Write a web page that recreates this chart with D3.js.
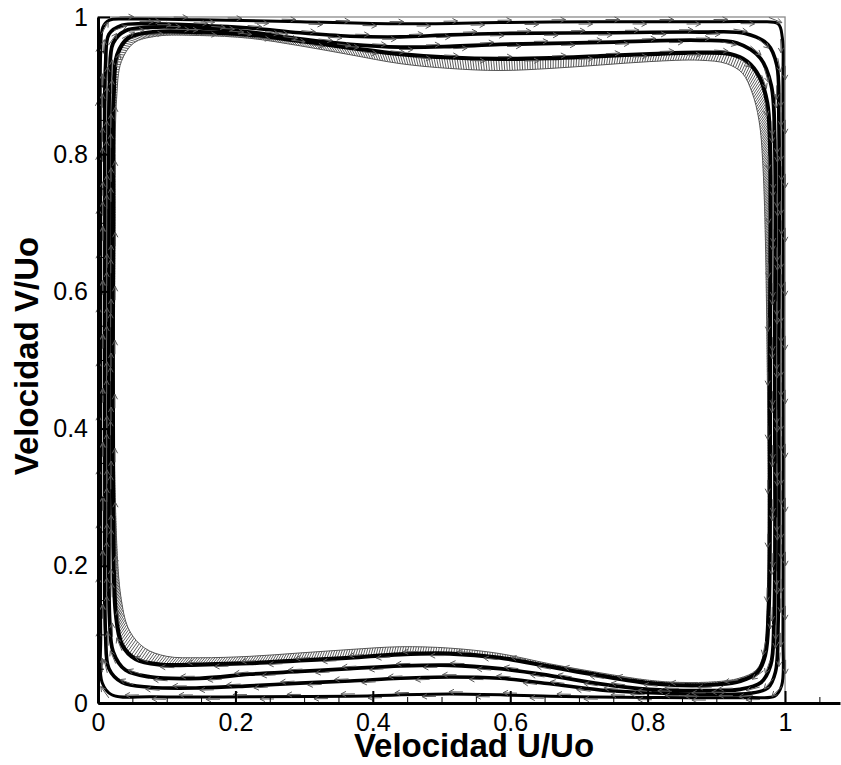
<!DOCTYPE html>
<html>
<head>
<meta charset="utf-8">
<script src="https://cdn.jsdelivr.net/npm/d3@7"></script>
<style>
  body { margin: 0; background: #fff; }
  svg { display: block; }
  text { font-family: "Liberation Sans", Arial, sans-serif; fill: #000; }
</style>
</head>
<body>
<svg id="chart" width="841" height="765"></svg>
<script>
// Axis ticks and labels
const xTicks = [0, 0.2, 0.4, 0.6, 0.8, 1];
const yTicks = [0, 0.2, 0.4, 0.6, 0.8, 1];
const tickLabels = ["0", "0.2", "0.4", "0.6", "0.8", "1"];
const xTitle = "Velocidad U/Uo";
const yTitle = "Velocidad V/Uo";

// Closed streamtraces, clockwise (up the left wall, along the lid, down the right wall, back along the floor)
const streamA = [
  [0.004, 0.30], [0.004, 0.70], [0.004, 0.95], [0.007, 0.985], [0.016, 0.995], [0.040, 0.997],
  [0.148, 0.996], [0.294, 0.993], [0.440, 0.990], [0.585, 0.992], [0.731, 0.993], [0.876, 0.993],
  [0.960, 0.993], [0.990, 0.990], [0.996, 0.970], [0.997, 0.900], [0.997, 0.500], [0.997, 0.100],
  [0.995, 0.025], [0.985, 0.010], [0.950, 0.008], [0.803, 0.008], [0.658, 0.010], [0.512, 0.013],
  [0.367, 0.010], [0.221, 0.009], [0.080, 0.009], [0.020, 0.012], [0.006, 0.030], [0.004, 0.100]
];
const streamB = [
  [0.010, 0.30], [0.010, 0.70], [0.011, 0.93], [0.016, 0.975], [0.035, 0.988], [0.076, 0.990],
  [0.148, 0.988], [0.221, 0.984], [0.294, 0.977], [0.367, 0.972], [0.440, 0.971], [0.512, 0.974],
  [0.585, 0.976], [0.731, 0.977], [0.876, 0.978], [0.942, 0.976], [0.975, 0.960], [0.988, 0.930],
  [0.991, 0.850], [0.991, 0.500], [0.990, 0.120], [0.986, 0.045], [0.975, 0.022], [0.949, 0.014],
  [0.876, 0.013], [0.803, 0.015], [0.731, 0.019], [0.658, 0.028], [0.585, 0.036], [0.512, 0.038],
  [0.440, 0.036], [0.367, 0.032], [0.294, 0.029], [0.221, 0.025], [0.148, 0.022], [0.076, 0.023],
  [0.035, 0.030], [0.016, 0.050], [0.011, 0.100]
];
const streamC = [
  [0.016, 0.30], [0.016, 0.70], [0.017, 0.91], [0.022, 0.962], [0.040, 0.980], [0.076, 0.985],
  [0.148, 0.984], [0.221, 0.978], [0.294, 0.968], [0.367, 0.960], [0.440, 0.956], [0.512, 0.957],
  [0.585, 0.960], [0.731, 0.963], [0.876, 0.966], [0.930, 0.962], [0.964, 0.940], [0.980, 0.900],
  [0.985, 0.820], [0.985, 0.500], [0.984, 0.120], [0.979, 0.055], [0.965, 0.030], [0.934, 0.020],
  [0.876, 0.018], [0.803, 0.020], [0.731, 0.028], [0.658, 0.040], [0.585, 0.050], [0.512, 0.055],
  [0.440, 0.054], [0.367, 0.050], [0.294, 0.046], [0.221, 0.042], [0.148, 0.036], [0.076, 0.038],
  [0.040, 0.048], [0.022, 0.075], [0.017, 0.120]
];
const streamD = [
  [0.022, 0.30], [0.022, 0.70], [0.023, 0.89], [0.028, 0.945], [0.045, 0.970], [0.080, 0.978],
  [0.148, 0.978], [0.221, 0.974], [0.294, 0.965], [0.367, 0.955], [0.440, 0.946], [0.512, 0.941],
  [0.585, 0.939], [0.658, 0.940], [0.731, 0.943], [0.803, 0.946], [0.876, 0.948], [0.920, 0.946],
  [0.945, 0.935], [0.963, 0.912], [0.974, 0.875], [0.978, 0.820], [0.978, 0.500], [0.976, 0.130],
  [0.971, 0.070], [0.960, 0.045], [0.935, 0.032], [0.900, 0.027], [0.847, 0.026], [0.803, 0.029],
  [0.731, 0.040], [0.658, 0.053], [0.585, 0.066], [0.512, 0.072], [0.440, 0.071], [0.367, 0.066],
  [0.294, 0.062], [0.221, 0.058], [0.148, 0.056], [0.090, 0.056], [0.055, 0.064], [0.035, 0.085],
  [0.026, 0.130]
];
// Inner edge of the dense vector band that hugs the innermost streamtrace
const bandInner = [
  [0.025, 0.30], [0.025, 0.70], [0.027, 0.88], [0.034, 0.935], [0.052, 0.962], [0.085, 0.972],
  [0.148, 0.973], [0.221, 0.969], [0.294, 0.958], [0.367, 0.945], [0.440, 0.932], [0.512, 0.925],
  [0.585, 0.922], [0.658, 0.925], [0.731, 0.930], [0.803, 0.935], [0.876, 0.937], [0.915, 0.932],
  [0.938, 0.918], [0.952, 0.890], [0.962, 0.850], [0.968, 0.780], [0.974, 0.500], [0.974, 0.130],
  [0.969, 0.072], [0.958, 0.048], [0.933, 0.036], [0.900, 0.031], [0.847, 0.030], [0.803, 0.033],
  [0.731, 0.044], [0.658, 0.057], [0.585, 0.072], [0.512, 0.080], [0.440, 0.082], [0.367, 0.078],
  [0.294, 0.073], [0.221, 0.068], [0.148, 0.066], [0.100, 0.068], [0.068, 0.080], [0.046, 0.105],
  [0.034, 0.150]
];

const svg = d3.select("#chart");
const x = d3.scaleLinear().domain([0, 1.08]).range([98, 840]);
const y = d3.scaleLinear().domain([0, 1]).range([703, 17]);
const line = d3.line()
  .x(d => x(d[0]))
  .y(d => y(d[1]))
  .curve(d3.curveCatmullRomClosed.alpha(0.5));

// Cavity outline (lid and right wall)
svg.append("rect")
  .attr("x", x(0)).attr("y", y(1))
  .attr("width", x(1) - x(0)).attr("height", y(0) - y(1))
  .attr("fill", "none").attr("stroke", "#8a8a8a").attr("stroke-width", 1.3);

// Dense vectors between the innermost streamtrace and the band edge
const hidden = svg.append("g").attr("visibility", "hidden");
const pD = hidden.append("path").attr("d", line(streamD)).node();
const pE = hidden.append("path").attr("d", line(bandInner)).node();
const LD = pD.getTotalLength(), LE = pE.getTotalLength();
const hatch = [];
for (let s = 0; s < LD; s += 2.6) {
  const a = pD.getPointAtLength(s);
  const b = pE.getPointAtLength((s / LD) * LE + 3);
  hatch.push(`M${a.x},${a.y}L${b.x},${b.y}`);
}
svg.append("path")
  .attr("d", hatch.join(""))
  .attr("stroke", "#4a4a4a").attr("stroke-width", 0.9).attr("fill", "none");
svg.append("path")
  .attr("d", line(bandInner))
  .attr("stroke", "#555").attr("stroke-width", 1).attr("fill", "none");

// Streamtraces
const traces = [
  { pts: streamA, w: 3.0 },
  { pts: streamB, w: 3.6 },
  { pts: streamC, w: 3.8 },
  { pts: streamD, w: 4.2 }
];
const traceNodes = traces.map(t =>
  svg.append("path")
    .attr("d", line(t.pts))
    .attr("fill", "none")
    .attr("stroke", "#000")
    .attr("stroke-width", t.w)
    .attr("stroke-linejoin", "round")
    .node()
);

// Velocity vectors riding along each streamtrace
const vec = [];
traceNodes.forEach((node, k) => {
  const L = node.getTotalLength();
  let i = 0;
  for (let s = 8 + k * 7; s < L - 2; s += 27, i++) {
    const p = node.getPointAtLength(s);
    const q = node.getPointAtLength(Math.min(s + 1.5, L));
    let dx = q.x - p.x, dy = q.y - p.y;
    const m = Math.hypot(dx, dy) || 1;
    dx /= m; dy /= m;
    const nx = -dy, ny = dx;
    const off = (i % 2 ? 2.2 : -2.2);
    const hx = p.x + nx * off + dx * 6, hy = p.y + ny * off + dy * 6;
    const tx = hx - dx * 14, ty = hy - dy * 14;
    vec.push(`M${tx},${ty}L${hx},${hy}`);
    vec.push(`M${hx - dx * 5 + nx * 2.6},${hy - dy * 5 + ny * 2.6}L${hx},${hy}L${hx - dx * 5 - nx * 2.6},${hy - dy * 5 - ny * 2.6}`);
  }
});
svg.append("path")
  .attr("d", vec.join(""))
  .attr("fill", "none").attr("stroke", "#5a5a5a").attr("stroke-width", 1);

// Axes with inward ticks
const fmt = d => tickLabels[xTicks.indexOf(d)];
const xAxis = svg.append("g").attr("transform", `translate(0,${y(0)})`)
  .call(d3.axisBottom(x).tickValues(xTicks).tickFormat(fmt)
    .tickSizeInner(-12).tickSizeOuter(0).tickPadding(10));
svg.append("g").attr("transform", `translate(0,${y(0)})`)
  .call(d3.axisBottom(x).tickValues(d3.range(0, 22).map(i => i * 0.05))
    .tickFormat("").tickSizeInner(-6).tickSizeOuter(0))
  .call(g => g.select(".domain").remove())
  .selectAll("line").attr("stroke-width", 1);

const yFmt = d => tickLabels[yTicks.indexOf(d)];
const yAxis = svg.append("g").attr("transform", `translate(${x(0)},0)`)
  .call(d3.axisLeft(y).tickValues(yTicks).tickFormat(yFmt)
    .tickSizeInner(-12).tickSizeOuter(0).tickPadding(10));
svg.append("g").attr("transform", `translate(${x(0)},0)`)
  .call(d3.axisLeft(y).tickValues(d3.range(0, 21).map(i => i * 0.05))
    .tickFormat("").tickSizeInner(-6).tickSizeOuter(0))
  .call(g => g.select(".domain").remove())
  .selectAll("line").attr("stroke-width", 1);

[xAxis, yAxis].forEach(g => {
  g.select(".domain").attr("stroke", "#000").attr("stroke-width", 3);
  g.selectAll(".tick line").attr("stroke", "#000").attr("stroke-width", 2);
  g.selectAll(".tick text")
    .attr("font-size", 25)
    .attr("font-family", "'Liberation Sans', Arial, sans-serif")
    .attr("fill", "#000");
});

// Axis titles
svg.append("text")
  .attr("x", 474).attr("y", 757)
  .attr("text-anchor", "middle")
  .attr("font-size", 33).attr("font-weight", "bold")
  .text(xTitle);
svg.append("text")
  .attr("transform", "translate(38,356) rotate(-90)")
  .attr("text-anchor", "middle")
  .attr("font-size", 33).attr("font-weight", "bold")
  .text(yTitle);
</script>
</body>
</html>
